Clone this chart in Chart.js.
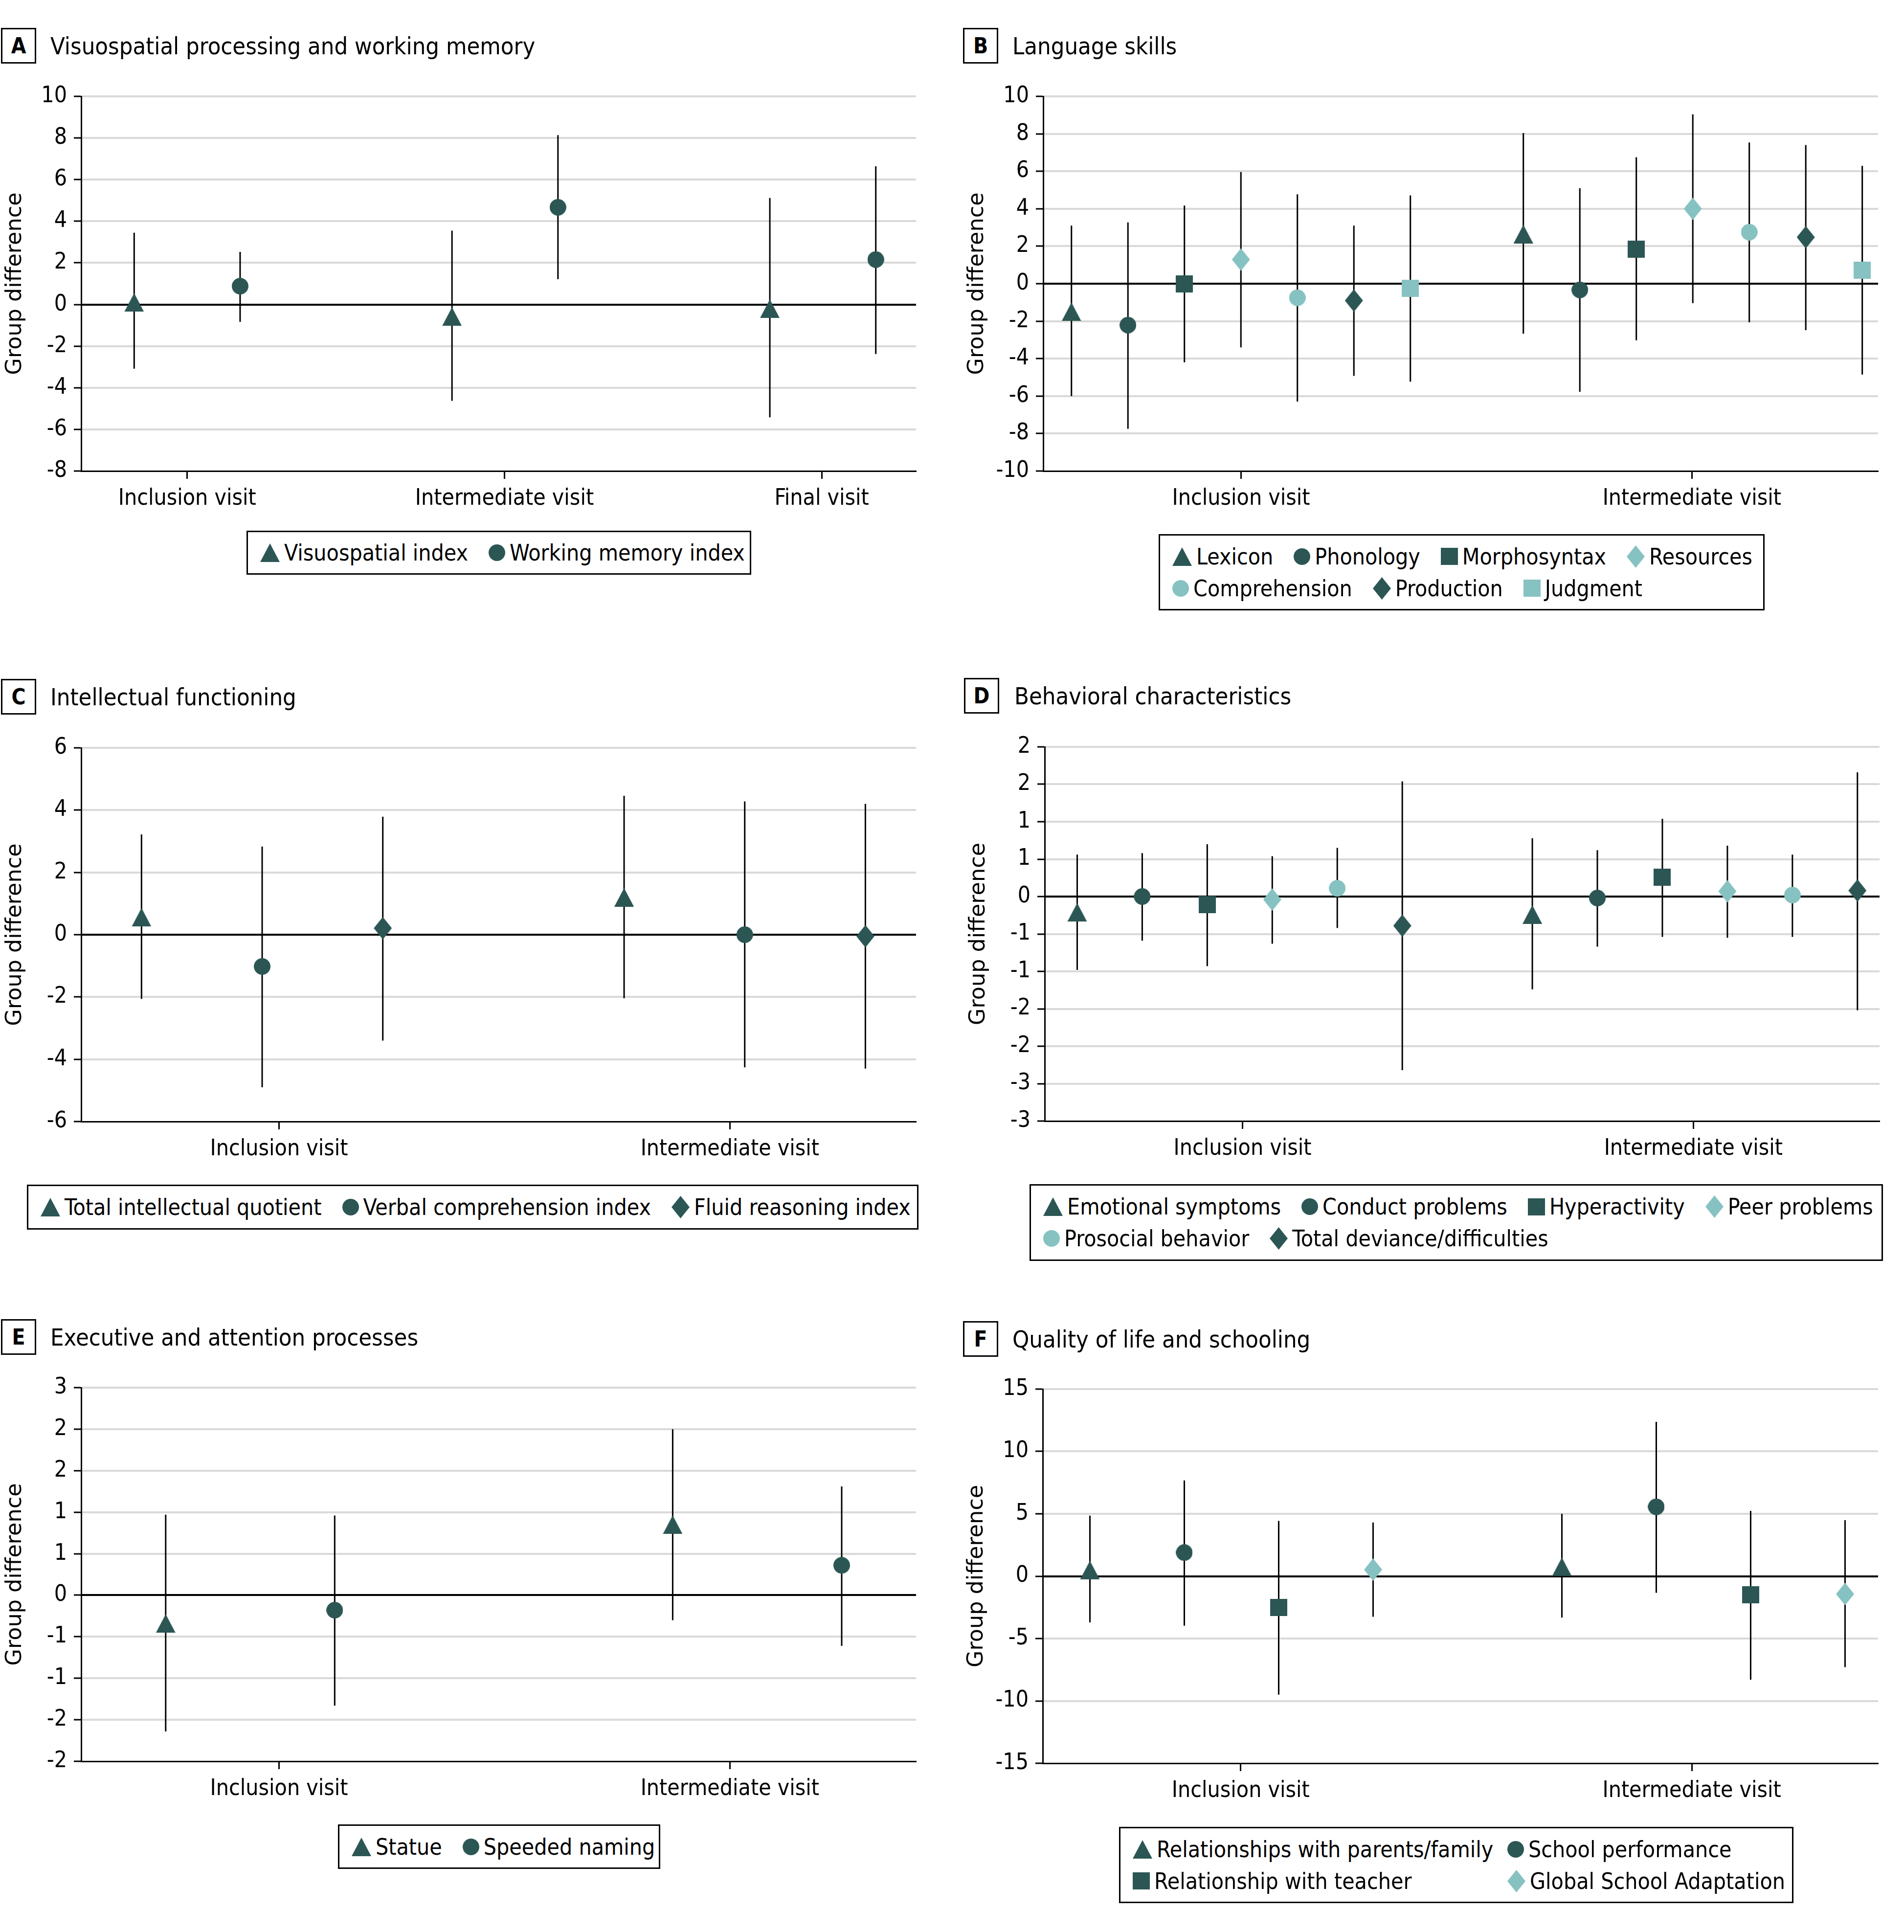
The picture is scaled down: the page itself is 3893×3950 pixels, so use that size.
<!DOCTYPE html>
<html>
<head>
<meta charset="utf-8">
<script src="https://cdn.jsdelivr.net/npm/chart.js@4.4.1/dist/chart.umd.min.js"></script>
<style>
  body { margin: 0; background: #fff; }
  #page { position: relative; width: 3893px; height: 3950px; overflow: hidden; color: #000;
          font-family: "DejaVu Sans Condensed", "DejaVu Sans", sans-serif; }
  canvas.plot { position: absolute; }
  .head { position: absolute; display: flex; align-items: center; height: 73px; white-space: nowrap; }
  .tag { box-sizing: border-box; width: 72px; height: 73px; border: 3px solid #000; font-weight: bold;
         font-size: 44px; display: flex; align-items: center; justify-content: center; }
  .ttl { font-size: 48.5px; }
  .legend { position: absolute; box-sizing: border-box; border: 3px solid #000; display: flex;
            flex-direction: column; justify-content: center; font-size: 46px; padding-left: 25px; }
  .row { display: flex; align-items: center; height: 65px; }
  .item { display: flex; align-items: center; white-space: nowrap; flex: none; }
  .item canvas { margin-right: 9px; }
</style>
</head>
<body>
<div id="page"></div>
<script>
const DARK = "#2b5654";
const LIGHT = "#86c2c1";
const FONT = '"DejaVu Sans Condensed", "DejaVu Sans", sans-serif';

const twoVisits = ["Inclusion visit", "Intermediate visit"];

// A - Visuospatial processing and working memory
const aVisits = ["Inclusion visit", "Intermediate visit", "Final visit"];
const aSeries = ["Visuospatial index", "Working memory index"];
const aEst = [[0.1, -0.58, -0.2], [0.88, 4.67, 2.16]];
const aLow = [[-3.08, -4.63, -5.42], [-0.83, 1.22, -2.38]];
const aHigh = [[3.45, 3.55, 5.12], [2.53, 8.14, 6.64]];
const aTicks = ["-8", "-6", "-4", "-2", "0", "2", "4", "6", "8", "10"];

// B - Language skills
const bSeries = ["Lexicon", "Phonology", "Morphosyntax", "Resources", "Comprehension", "Production", "Judgment"];
const bEst = [[-1.5, 2.65], [-2.21, -0.33], [0.0, 1.85], [1.29, 4.0], [-0.75, 2.75], [-0.9, 2.48], [-0.25, 0.73]];
const bLow = [[-6.0, -2.67], [-7.75, -5.77], [-4.2, -3.02], [-3.4, -1.04], [-6.29, -2.06], [-4.92, -2.48], [-5.23, -4.85]];
const bHigh = [[3.1, 8.04], [3.27, 5.1], [4.17, 6.75], [5.96, 9.04], [4.77, 7.54], [3.1, 7.4], [4.71, 6.29]];
const bTicks = ["-10", "-8", "-6", "-4", "-2", "0", "2", "4", "6", "8", "10"];

// C - Intellectual functioning
const cSeries = ["Total intellectual quotient", "Verbal comprehension index", "Fluid reasoning index"];
const cEst = [[0.56, 1.2], [-1.02, 0.0], [0.21, -0.05]];
const cLow = [[-2.06, -2.04], [-4.9, -4.26], [-3.4, -4.3]];
const cHigh = [[3.22, 4.46], [2.83, 4.28], [3.79, 4.2]];
const cTicks = ["-6", "-4", "-2", "0", "2", "4", "6"];

// D - Behavioral characteristics
const dSeries = ["Emotional symptoms", "Conduct problems", "Hyperactivity", "Peer problems", "Prosocial behavior", "Total deviance/difficulties"];
const dEst = [[-0.21, -0.24], [0.0, -0.02], [-0.11, 0.26], [-0.04, 0.07], [0.11, 0.02], [-0.39, 0.08]];
const dLow = [[-0.98, -1.24], [-0.59, -0.67], [-0.93, -0.54], [-0.63, -0.55], [-0.42, -0.54], [-2.32, -1.52]];
const dHigh = [[0.56, 0.78], [0.58, 0.62], [0.7, 1.04], [0.54, 0.68], [0.65, 0.56], [1.54, 1.66]];
const dTicks = ["-3", "-3", "-2", "-2", "-1", "-1", "0", "1", "1", "2", "2"];

// E - Executive and attention processes
const eSeries = ["Statue", "Speeded naming"];
const eEst = [[-0.34, 0.85], [-0.18, 0.36]];
const eLow = [[-1.64, -0.3], [-1.33, -0.61]];
const eHigh = [[0.97, 2.0], [0.96, 1.31]];
const eTicks = ["-2", "-2", "-1", "-1", "0", "1", "1", "2", "2", "3"];

// F - Quality of life and schooling
const fSeries = ["Relationships with parents/family", "School performance", "Relationship with teacher", "Global School Adaptation"];
const fEst = [[0.49, 0.75], [1.89, 5.56], [-2.5, -1.5], [0.52, -1.43]];
const fLow = [[-3.71, -3.32], [-3.97, -1.33], [-9.5, -8.3], [-3.25, -7.29]];
const fHigh = [[4.85, 5.0], [7.68, 12.37], [4.43, 5.24], [4.3, 4.49]];
const fTicks = ["-15", "-10", "-5", "0", "5", "10", "15"];

// where the visit labels sit along the x axis (fraction of axis length)
const threeVisitFrac = [0.127, 0.507, 0.887];
const twoVisitFrac = [0.237, 0.777];

const panels = [
  { letter: "A", title: "Visuospatial processing and working memory", visits: aVisits, series: aSeries,
    est: aEst, low: aLow, high: aHigh, yLabels: aTicks, yMin: -8, yMax: 10, yStep: 2,
    shapes: ["triangle", "circle"], colors: [DARK, DARK], tickFrac: threeVisitFrac,
    xMax: 7.38, axisX: 166, right: 1873, chartTop: 197, chartBottom: 963, head: [2, 57, 103],
    legend: { left: 504, top: 1085, width: 1032, height: 90, rows: [[0, 1]] } },
  { letter: "B", title: "Language skills", visits: twoVisits, series: bSeries,
    est: bEst, low: bLow, high: bHigh, yLabels: bTicks, yMin: -10, yMax: 10, yStep: 2,
    shapes: ["triangle", "circle", "square", "diamond", "circle", "diamond", "square"],
    colors: [DARK, DARK, DARK, LIGHT, LIGHT, DARK, LIGHT], tickFrac: twoVisitFrac,
    xMax: 14.28, axisX: 2133, right: 3840, chartTop: 197, chartBottom: 963, head: [1969, 57, 2070],
    legend: { left: 2369, top: 1092, width: 1239, height: 156, rows: [[0, 1, 2, 3], [4, 5, 6]] } },
  { letter: "C", title: "Intellectual functioning", visits: twoVisits, series: cSeries,
    est: cEst, low: cLow, high: cHigh, yLabels: cTicks, yMin: -6, yMax: 6, yStep: 2,
    shapes: ["triangle", "circle", "diamond"], colors: [DARK, DARK, DARK], tickFrac: twoVisitFrac,
    xMax: 6.42, axisX: 166, right: 1873, chartTop: 1529, chartBottom: 2293, head: [2, 1388, 103],
    legend: { left: 55, top: 2422, width: 1823, height: 92, rows: [[0, 1, 2]] } },
  { letter: "D", title: "Behavioral characteristics", visits: twoVisits, series: dSeries,
    est: dEst, low: dLow, high: dHigh, yLabels: dTicks, yMin: -3, yMax: 2, yStep: 0.5,
    shapes: ["triangle", "circle", "square", "diamond", "circle", "diamond"],
    colors: [DARK, DARK, DARK, LIGHT, LIGHT, DARK], tickFrac: twoVisitFrac,
    xMax: 12.34, axisX: 2136, right: 3843, chartTop: 1527, chartBottom: 2292, head: [1971, 1386, 2074],
    legend: { left: 2105, top: 2421, width: 1745, height: 157, rows: [[0, 1, 2, 3], [4, 5]] } },
  { letter: "E", title: "Executive and attention processes", visits: twoVisits, series: eSeries,
    est: eEst, low: eLow, high: eHigh, yLabels: eTicks, yMin: -2, yMax: 2.5, yStep: 0.5,
    shapes: ["triangle", "circle"], colors: [DARK, DARK], tickFrac: twoVisitFrac,
    xMax: 4.44, axisX: 166, right: 1873, chartTop: 2837, chartBottom: 3601, head: [2, 2697, 103],
    legend: { left: 691, top: 3730, width: 659, height: 91, rows: [[0, 1]] } },
  { letter: "F", title: "Quality of life and schooling", visits: twoVisits, series: fSeries,
    est: fEst, low: fLow, high: fHigh, yLabels: fTicks, yMin: -15, yMax: 15, yStep: 5,
    shapes: ["triangle", "circle", "square", "diamond"], colors: [DARK, DARK, DARK, LIGHT], tickFrac: twoVisitFrac,
    xMax: 8.35, axisX: 2132, right: 3840, chartTop: 2840, chartBottom: 3605, head: [1969, 2701, 2070],
    legend: { left: 2288, top: 3735, width: 1379, height: 156, rows: [[0, 1], [2, 3]], colWidth: 766 } },
];

const markerSizes = { triangle: [40, 38], circle: [34, 34], square: [35, 35], diamond: [37, 46] };

function makeMarker(shape, color) {
  const [w, h] = markerSizes[shape];
  const c = document.createElement("canvas");
  c.width = w;
  c.height = h;
  const g = c.getContext("2d");
  g.fillStyle = color;
  g.beginPath();
  if (shape === "circle") {
    g.arc(w / 2, h / 2, w / 2, 0, Math.PI * 2);
  } else if (shape === "square") {
    g.rect(0, 0, w, h);
  } else if (shape === "triangle") {
    g.moveTo(w / 2, 0); g.lineTo(w, h); g.lineTo(0, h); g.closePath();
  } else {
    g.moveTo(w / 2, 0); g.lineTo(w, h / 2); g.lineTo(w / 2, h); g.lineTo(0, h / 2); g.closePath();
  }
  g.fill();
  return c;
}

const page = document.getElementById("page");

function buildHead(p) {
  const [x, y, textX] = p.head;
  const head = document.createElement("div");
  head.className = "head";
  head.style.left = x + "px";
  head.style.top = y + "px";
  const tag = document.createElement("div");
  tag.className = "tag";
  tag.textContent = p.letter;
  const ttl = document.createElement("div");
  ttl.className = "ttl";
  ttl.style.marginLeft = (textX - x - 72) + "px";
  ttl.textContent = p.title;
  head.append(tag, ttl);
  page.appendChild(head);
}

function buildLegend(p) {
  const L = p.legend;
  const box = document.createElement("div");
  box.className = "legend";
  box.style.left = L.left + "px";
  box.style.top = L.top + "px";
  box.style.width = L.width + "px";
  box.style.height = L.height + "px";
  L.rows.forEach((row) => {
    const r = document.createElement("div");
    r.className = "row";
    row.forEach((s, k) => {
      const item = document.createElement("div");
      item.className = "item";
      if (L.colWidth) {
        if (k < row.length - 1) item.style.width = L.colWidth + "px";
      } else {
        item.style.marginRight = "42px";
      }
      const span = document.createElement("span");
      span.textContent = p.series[s];
      item.append(makeMarker(p.shapes[s], p.colors[s]), span);
      r.appendChild(item);
    });
    box.appendChild(r);
  });
  page.appendChild(box);
}

function buildChart(p) {
  const n = p.series.length;
  const slot = (g, s) => g * (n + 1) + s;
  const xMin = -0.5;
  const catPos = p.tickFrac.map((f) => xMin + f * (p.xMax - xMin));

  const canvasLeft = p.axisX - 166;
  const canvasTop = p.chartTop - 47;
  const W = p.right - canvasLeft + 20;
  const H = p.chartBottom - canvasTop + 110;

  const canvas = document.createElement("canvas");
  canvas.className = "plot";
  canvas.width = W;
  canvas.height = H;
  canvas.style.left = canvasLeft + "px";
  canvas.style.top = canvasTop + "px";
  canvas.style.width = W + "px";
  canvas.style.height = H + "px";
  page.appendChild(canvas);

  const markers = p.series.map((name, s) => ({
    label: name,
    data: p.est[s].map((y, g) => ({ x: slot(g, s), y })),
    pointStyle: makeMarker(p.shapes[s], p.colors[s]),
    pointRadius: 10,
    order: 0,
  }));

  // confidence intervals as broken line segments
  const ciData = [];
  p.series.forEach((_, s) => {
    p.visits.forEach((_, g) => {
      const x = slot(g, s);
      ciData.push({ x, y: p.low[s][g] }, { x, y: p.high[s][g] }, { x, y: null });
    });
  });
  const ci = {
    label: "95% CI",
    data: ciData,
    showLine: true,
    spanGaps: false,
    borderColor: "#000",
    borderWidth: 3,
    pointRadius: 0,
    order: 1,
  };

  new Chart(canvas, {
    type: "scatter",
    data: { datasets: [...markers, ci] },
    options: {
      responsive: false,
      animation: false,
      devicePixelRatio: 1,
      layout: { padding: { top: 47, left: 0, right: W - (p.right - canvasLeft), bottom: 0 } },
      plugins: { legend: { display: false }, tooltip: { enabled: false } },
      scales: {
        x: {
          type: "linear",
          min: xMin,
          max: p.xMax,
          afterFit: (scale) => { scale.height = 110; },
          afterBuildTicks: (scale) => { scale.ticks = catPos.map((v) => ({ value: v })); },
          ticks: {
            callback: (v, i) => p.visits[i],
            font: { family: FONT, size: 46 },
            color: "#000",
            padding: 13,
            autoSkip: false,
            maxRotation: 0,
          },
          grid: { drawOnChartArea: false, drawTicks: true, tickLength: 16, tickColor: "#000", tickWidth: 3 },
          border: { color: "#000", width: 3 },
        },
        y: {
          min: p.yMin,
          max: p.yMax,
          afterFit: (scale) => { scale.width = 166; },
          ticks: {
            stepSize: p.yStep,
            callback: (v, i) => p.yLabels[i],
            font: { family: FONT, size: 46 },
            color: "#000",
            padding: 14,
            autoSkip: false,
          },
          grid: {
            color: (ctx) => {
              const v = ctx.tick ? ctx.tick.value : null;
              if (v === 0) return "#000";
              if (v === p.yMin) return "rgba(0,0,0,0)";
              return "#d9d9d9";
            },
            lineWidth: 4,
            tickLength: 15,
            tickColor: "#000",
            tickWidth: 3,
          },
          border: { color: "#000", width: 3 },
          title: {
            display: true,
            text: "Group difference",
            font: { family: '"DejaVu Sans", sans-serif', size: 44.5 },
            color: "#000",
            padding: { top: 5, bottom: 0 },
          },
        },
      },
    },
  });
}

panels.forEach((p) => {
  buildHead(p);
  buildChart(p);
  buildLegend(p);
});
</script>
</body>
</html>
